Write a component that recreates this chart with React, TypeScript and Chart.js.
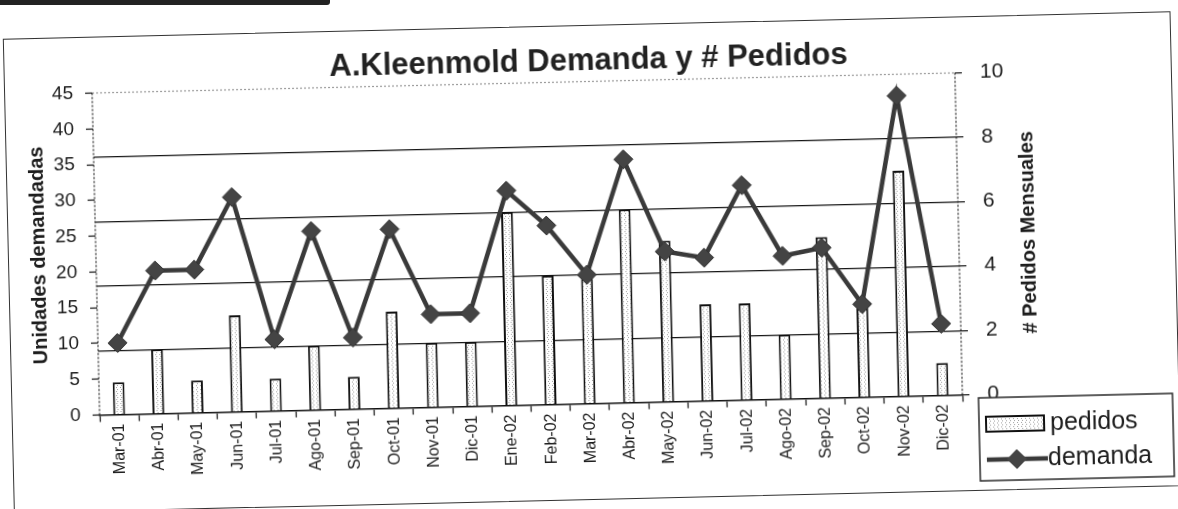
import React, { useEffect, useRef } from "react";
import { Chart, registerables } from "chart.js";

Chart.register(...registerables);

const categories = [
  "Mar-01", "Abr-01", "May-01", "Jun-01", "Jul-01", "Ago-01", "Sep-01", "Oct-01",
  "Nov-01", "Dic-01", "Ene-02", "Feb-02", "Mar-02", "Abr-02", "May-02", "Jun-02",
  "Jul-02", "Ago-02", "Sep-02", "Oct-02", "Nov-02", "Dic-02",
];
const pedidos = [1, 2, 1, 3, 1, 2, 1, 3, 2, 2, 6, 4, 4, 6, 5, 3, 3, 2, 5, 3, 7, 1];
const demanda = [10, 20, 20, 30, 10, 25, 10, 25, 13, 13, 30, 25, 18, 34, 21, 20, 30, 20, 21, 13, 42, 10];

const leftAxisMax = 45;
const leftAxisStep = 5;
const rightAxisMax = 10;
const rightAxisStep = 2;

const titleText = "A.Kleenmold Demanda y # Pedidos";
const leftTitle = "Unidades demandadas";
const rightTitle = "# Pedidos Mensuales";
const legendLabels = ["pedidos", "demanda"];

const FONT = "'Liberation Sans', Arial, Helvetica, sans-serif";
const INK = "#1c1c1c";
const LINE = "#3a3a3a";

export default function App() {
  const canvasRef = useRef<HTMLCanvasElement | null>(null);

  useEffect(() => {
    document.body.style.margin = "0";
    document.body.style.overflow = "hidden";
    const canvas = canvasRef.current;
    if (!canvas) return;
    const ctx = canvas.getContext("2d");
    if (!ctx) return;

    const pc = document.createElement("canvas");
    pc.width = 4;
    pc.height = 4;
    const p = pc.getContext("2d")!;
    p.fillStyle = "#ffffff";
    p.fillRect(0, 0, 4, 4);
    p.fillStyle = "#a0a0a0";
    p.fillRect(1, 0, 1, 1);
    p.fillRect(2, 2, 1, 1);
    const pattern = ctx.createPattern(pc, "repeat") as CanvasPattern;

    const decor = {
      id: "decor",
      beforeDatasetsDraw(chart: any) {
        const { ctx: c, chartArea: a } = chart;
        c.save();
        c.lineWidth = 1.2;
        c.setLineDash([2, 2]);
        c.strokeStyle = "#9a9a9a";
        c.beginPath();
        c.moveTo(a.left, a.top);
        c.lineTo(a.right, a.top);
        c.stroke();
        c.strokeStyle = "#222";
        c.beginPath();
        c.moveTo(a.left, a.top);
        c.lineTo(a.left, a.bottom);
        c.moveTo(a.right, a.top);
        c.lineTo(a.right, a.bottom);
        c.stroke();
        c.restore();
      },
      afterDraw(chart: any) {
        const { ctx: c, chartArea: a } = chart;
        c.save();
        c.translate(1029, (a.top + a.bottom) / 2);
        c.rotate(-Math.PI / 2);
        c.fillStyle = INK;
        c.font = `bold 20px ${FONT}`;
        c.textAlign = "center";
        c.textBaseline = "middle";
        c.fillText(rightTitle, 0, 0);
        c.restore();

        // legend
        c.save();
        c.strokeStyle = "#2a2a2a";
        c.lineWidth = 1.5;
        c.fillStyle = "#fff";
        c.fillRect(975, 407, 194, 83);
        c.strokeRect(975, 407, 194, 83);
        c.fillStyle = pattern;
        c.fillRect(982, 426, 58, 15);
        c.strokeStyle = "#111";
        c.lineWidth = 2;
        c.strokeRect(982, 426, 58, 15);
        c.fillStyle = INK;
        c.font = `25px ${FONT}`;
        c.textAlign = "left";
        c.textBaseline = "middle";
        c.fillText(legendLabels[0], 1046, 434);
        c.strokeStyle = LINE;
        c.lineWidth = 4.5;
        c.beginPath();
        c.moveTo(982, 469);
        c.lineTo(1043, 469);
        c.stroke();
        c.fillStyle = "#444";
        c.beginPath();
        c.moveTo(1012 - 10, 469);
        c.lineTo(1012, 469 - 10);
        c.lineTo(1012 + 10, 469);
        c.lineTo(1012, 469 + 10);
        c.closePath();
        c.fill();
        c.fillStyle = INK;
        c.fillText(legendLabels[1], 1043, 469);
        c.restore();
      },
    };

    const chart = new Chart(ctx, {
      type: "bar",
      data: {
        labels: categories,
        datasets: [
          {
            type: "line",
            label: legendLabels[1],
            data: demanda,
            yAxisID: "y",
            order: 0,
            borderColor: LINE,
            borderWidth: 4.5,
            tension: 0,
            pointStyle: "rectRot",
            pointRadius: 9.5,
            pointBackgroundColor: "#444",
            pointBorderColor: "#333",
            pointBorderWidth: 1,
          } as any,
          {
            type: "bar",
            label: legendLabels[0],
            data: pedidos,
            yAxisID: "y1",
            order: 1,
            backgroundColor: pattern as any,
            borderColor: "#111",
            borderWidth: 2,
            barPercentage: 0.3,
            categoryPercentage: 1,
          } as any,
        ],
      },
      options: {
        animation: false,
        responsive: false,
        maintainAspectRatio: false,
        layout: { padding: { left: 8, right: 0, top: 0, bottom: 0 } },
        plugins: {
          legend: { display: false },
          tooltip: { enabled: false },
          title: {
            display: true,
            text: titleText,
            color: "#222",
            font: { family: FONT, size: 31, weight: "bold" },
            padding: { top: 43, bottom: 1.3 },
          },
        },
        scales: {
          x: {
            afterFit: (s: any) => {
              s.height = 105.5;
            },
            grid: {
              offset: true,
              drawOnChartArea: false,
              tickLength: 7,
              tickColor: "#111",
              tickWidth: 1.2,
            },
            border: { display: true, color: "#111", width: 1.6 },
            ticks: {
              autoSkip: false,
              minRotation: 90,
              maxRotation: 90,
              padding: 2,
              color: INK,
              font: { family: FONT, size: 16 },
            },
          },
          y: {
            position: "left",
            min: 0,
            max: leftAxisMax,
            afterFit: (s: any) => {
              s.width = 88;
            },
            ticks: {
              stepSize: leftAxisStep,
              padding: 12,
              color: INK,
              font: { family: FONT, size: 19 },
            },
            grid: {
              drawOnChartArea: false,
              tickLength: 7,
              tickColor: "#111",
              tickWidth: 1.2,
            },
            border: { display: false },
            title: {
              display: true,
              text: leftTitle,
              color: INK,
              font: { family: FONT, size: 20, weight: "bold" },
              padding: { top: 19, bottom: 0 },
            },
          },
          y1: {
            position: "right",
            min: 0,
            max: rightAxisMax,
            afterFit: (s: any) => {
              s.width = 219;
            },
            ticks: {
              stepSize: rightAxisStep,
              padding: 18,
              color: INK,
              font: { family: FONT, size: 21 },
            },
            grid: {
              drawOnChartArea: true,
              color: (c: any) =>
                c.tick && (c.tick.value === 0 || c.tick.value === rightAxisMax)
                  ? "rgba(0,0,0,0)"
                  : "#151515",
              lineWidth: 1.2,
              tickLength: 7,
              tickColor: "#111",
              tickWidth: 1.2,
            },
            border: { display: false },
          },
        },
      },
      plugins: [decor],
    });

    return () => chart.destroy();
  }, []);

  return (
    <div
      style={{
        position: "fixed",
        left: 0,
        top: 0,
        width: 1178,
        height: 509,
        overflow: "hidden",
        background: "#fff",
      }}
    >
      <div
        style={{
          position: "absolute",
          left: 0,
          top: 0,
          width: 330,
          height: 5,
          background: "#222",
          borderBottomRightRadius: 3,
        }}
      />
      <div
        style={{
          position: "absolute",
          left: 0,
          top: 0,
          width: 1178,
          height: 509,
          transform: "rotate(-1.34deg)",
          transformOrigin: "589px 254px",
        }}
      >
        <div
          style={{
            position: "absolute",
            left: 8,
            top: 25,
            width: 1168,
            height: 475,
            border: "1.5px solid #333",
            boxSizing: "border-box",
          }}
        />
        <canvas
          ref={canvasRef}
          width={1178}
          height={509}
          style={{ position: "absolute", left: 0, top: 0, width: 1178, height: 509 }}
        />
      </div>
    </div>
  );
}
